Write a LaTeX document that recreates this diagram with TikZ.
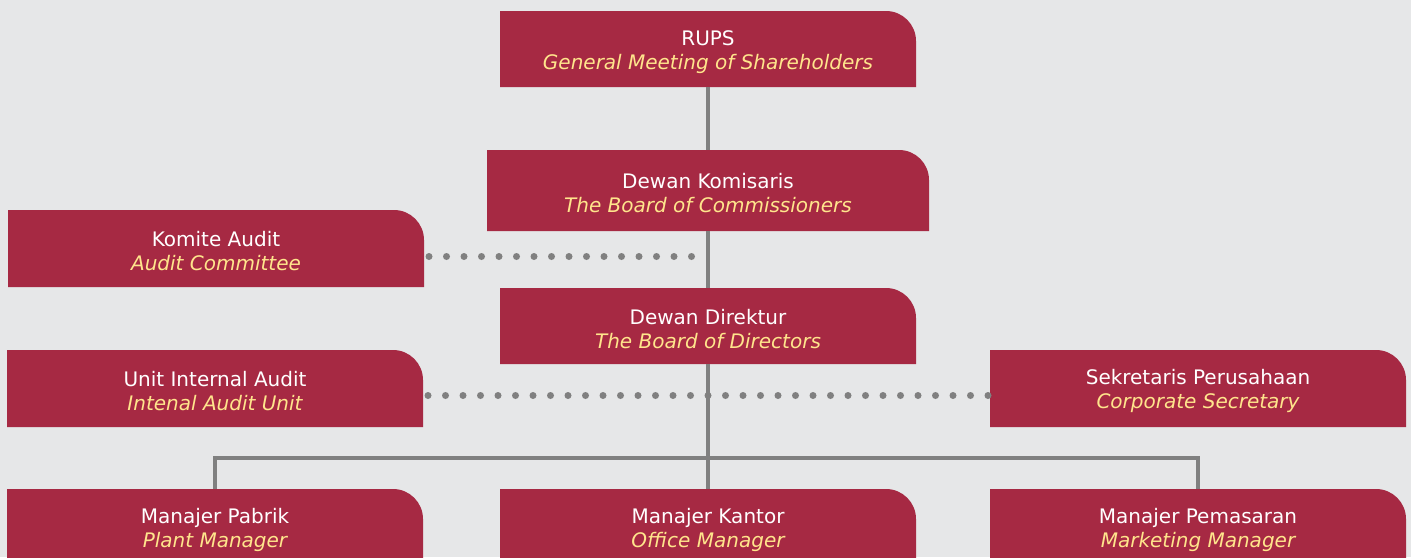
\documentclass[tikz,border=0pt]{standalone}
\usepackage{fontspec}
\setmainfont{DejaVu Sans}
\usetikzlibrary{positioning, calc}

\definecolor{boxred}{RGB}{166,41,67}
\definecolor{engyellow}{RGB}{255,229,140}
\definecolor{pagebg}{RGB}{230,231,232}
\definecolor{linkgray}{RGB}{128,128,128}
\newcommand{\eng}[1]{\textcolor{engyellow}{\itshape #1}}

\begin{document}
\begin{tikzpicture}[x=1pt, y=-1pt,
    node distance=57pt,
    every node/.style={font=\fontsize{20}{24}\selectfont},
    unit/.style={rectangle, fill=pagebg, text=white, align=center, inner sep=0pt, outer sep=0pt,
      minimum width=416pt, minimum height=76pt, execute at begin node={\rule{0pt}{45pt}},
      path picture={\fill[boxred] (path picture bounding box.south west) -- (path picture bounding box.north west)
        -- ([xshift=-30pt]path picture bounding box.north east) arc[start angle=90, end angle=0, radius=30pt]
        -- (path picture bounding box.south east) -- cycle;}},
    link/.style={draw=linkgray, line width=3.5pt},
    dotline/.style={draw=linkgray, line width=7pt, line cap=round, dash pattern=on 0pt off 17.5pt}]

\useasboundingbox[fill=pagebg] (0,0) rectangle (1411,557);

% Main line
\node[unit] (rups) at (708,49) {RUPS\\\eng{General Meeting of Shareholders}};
\node[unit, below=63pt of rups, minimum width=442pt, minimum height=81pt] (komisaris) {Dewan Komisaris\\\eng{The Board of Commissioners}};
\node[unit, below=of komisaris] (direktur) {Dewan Direktur\\\eng{The Board of Directors}};

% Committees and staff
\node[unit, left=63pt of komisaris, yshift=-58pt, minimum height=77pt] (komite) {Komite Audit\\\eng{Audit Committee}};
\node[unit, left=77pt of direktur, yshift=-62.5pt, minimum height=77pt] (internal) {Unit Internal Audit\\\eng{Intenal Audit Unit}};
\node[unit, right=74pt of direktur, yshift=-62.5pt, minimum height=77pt] (sekretaris) {Sekretaris Perusahaan\\\eng{Corporate Secretary}};

% Managers
\node[unit, below=125pt of direktur] (kantor) {Manajer Kantor\\\eng{Office Manager}};
\node[unit, left=77pt of kantor] (pabrik) {Manajer Pabrik\\\eng{Plant Manager}};
\node[unit, right=74pt of kantor] (pemasaran) {Manajer Pemasaran\\\eng{Marketing Manager}};

% Paths
\coordinate (bus) at (708,458);
\draw[link] (rups) -- (komisaris);
\draw[link] (komisaris) -- (direktur);
\draw[link] (direktur) -- (kantor);
\draw[link] (pabrik.north) |- (bus) -| (pemasaran.north);
\draw[dotline] ($(komite.east)+(5,8)$) -- ($(komite.east -| direktur.north)+(-15,8)$);
\draw[dotline] ($(internal.east)+(5,7)$) -- ($(sekretaris.west)+(-1,7)$);

\end{tikzpicture}
\end{document}
